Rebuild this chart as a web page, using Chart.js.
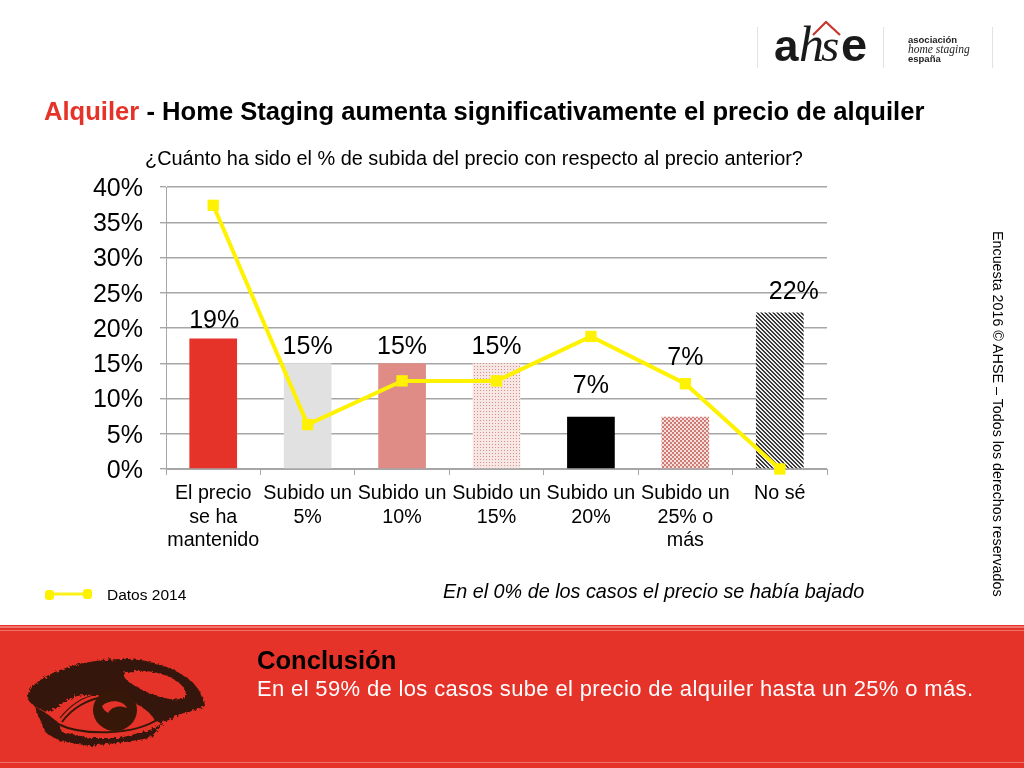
<!DOCTYPE html>
<html lang="es"><head><meta charset="utf-8">
<script src="https://cdn.jsdelivr.net/npm/chart.js@4"></script>
<style>
html,body{margin:0;padding:0;background:#fff;width:1024px;height:768px;overflow:hidden;font-family:"Liberation Sans",Arial,sans-serif;color:#000}
#stage{position:relative;width:1024px;height:768px;overflow:hidden}
#stage canvas{position:absolute;left:0;top:0}
.t{position:absolute;white-space:nowrap;line-height:1}
#band{position:absolute;left:0;top:625px;width:1024px;height:143px;background:#e6332a}
#band i{position:absolute;left:0;width:1024px;height:1px;background:#f0736c;display:block}
svg{position:absolute;left:0;top:0}
</style></head><body>
<div id="stage">
<canvas id="c" width="1024" height="768"></canvas>
<div id="band"><i style="top:1px;height:2px"></i><i style="top:5px"></i><i style="top:137px"></i></div>
<svg width="1024" height="768" viewBox="0 0 1024 768">
  <defs><filter id="rough" x="-5%" y="-5%" width="110%" height="110%"><feTurbulence type="fractalNoise" baseFrequency="0.35" numOctaves="2" seed="4"/><feDisplacementMap in="SourceGraphic" scale="5"/></filter></defs>
  <g stroke="#e3e3e3" stroke-width="1"><line x1="757.5" y1="27" x2="757.5" y2="68"/><line x1="883.5" y1="27" x2="883.5" y2="68"/><line x1="992.5" y1="27" x2="992.5" y2="68"/></g>
  <polyline points="813,35 826,22 840,35" fill="none" stroke="#c8352d" stroke-width="2.2"/>
  <text x="774" y="61" font-family="Liberation Sans" font-weight="700" font-size="44" fill="#1a1a1a">a</text>
  <text x="799" y="61" font-family="Liberation Serif" font-style="italic" font-size="50" fill="#1a1a1a">h</text>
  <text x="821" y="61" font-family="Liberation Serif" font-style="italic" font-size="47" fill="#1a1a1a">s</text>
  <text x="841" y="61" font-family="Liberation Sans" font-weight="700" font-size="47" fill="#1a1a1a">e</text>
  <text x="908" y="43" font-family="Liberation Sans" font-weight="700" font-size="9.5" fill="#222">asociación</text>
  <text x="908" y="52.5" font-family="Liberation Serif" font-style="italic" font-size="11.5" fill="#222">home staging</text>
  <text x="908" y="61.5" font-family="Liberation Sans" font-weight="700" font-size="9.5" fill="#222">españa</text>
  <line x1="50" y1="594" x2="87" y2="594" stroke="#fbf219" stroke-width="3"/>
  <rect x="45" y="590" width="9" height="10" rx="3" fill="#fff200"/><rect x="83" y="589" width="9" height="10" rx="3" fill="#fff200"/>
  <g filter="url(#rough)" fill="#361708" stroke="none">
    <path fill-rule="evenodd" d="M27 697C30 685 42 677 60 670C80 662 105 659 125 659C150 659 175 668 190 680C200 689 204 698 205 706C198 709 190 712 180 714C172 719 162 724 156 722C150 712 142 705 130 702C112 696 88 692 74 697C62 702 52 712 46 712C38 708 30 705 27 697ZM123 673C140 668 165 672 178 682C188 690 188 697 180 699C165 701 147 693 135 686C128 682 124 678 123 673Z"/>
    <path d="M34 706L46 713L58 722L62 732L90 738L120 738L150 730L165 722L150 738L125 742L90 746L60 741L46 733Z"/>
  </g>
  <g fill="none" stroke="#361708">
    <path d="M62 722C72 708 88 699 104 697" stroke-width="2"/>
    <path d="M58 724C80 735 132 737 160 718" stroke-width="2"/>
    <path d="M60 718C72 703 86 696 98 694" stroke-width="1.2"/>
  </g>
  <ellipse cx="115" cy="710" rx="22" ry="21" fill="#361708"/>
  <path d="M102 706C110 698 124 701 127 708C120 705 112 706 108 713C105 711 103 709 102 706Z" fill="#e6332a"/>
</svg>
<div class="t" style="left:44px;top:99px;font-size:25.6px;font-weight:700"><span style="color:#e6332a">Alquiler</span> - Home Staging aumenta significativamente el precio de alquiler</div>
<div class="t" style="left:145px;top:149px;font-size:19.9px;letter-spacing:0">¿Cuánto ha sido el % de subida del precio con respecto al precio anterior?</div>
<div class="t" style="left:107px;top:587px;font-size:15.5px">Datos 2014</div>
<div class="t" style="left:443px;top:582px;font-size:19.8px;font-style:italic">En el 0% de los casos el precio se había bajado</div>
<div class="t" style="left:1005px;top:231px;font-size:14.3px;transform-origin:0 0;transform:rotate(90deg)">Encuesta 2016 © AHSE – Todos los derechos reservados</div>
<div class="t" style="left:257px;top:648px;font-size:25.6px;font-weight:700">Conclusión</div>
<div class="t" style="left:257px;top:678px;font-size:22px;color:#fff;letter-spacing:.35px">En el 59% de los casos sube el precio de alquiler hasta un 25% o más.</div>
</div>
<script>
const categories = [["El precio","se ha","mantenido"],["Subido un","5%"],["Subido un","10%"],["Subido un","15%"],["Subido un","20%"],["Subido un","25% o","más"],["No sé"]];
const surveyValues = [18.5, 15, 15, 15, 7.4, 7.4, 22.2];
const data2014 = [37.4, 6.3, 12.5, 12.5, 18.8, 12.1, 0];
const percentLabels = ["19%","15%","15%","15%","7%","7%","22%"];
const labelDx = [1,0,0,0,0,0,14];
const labelDy = [-17,-16,-16,-16,-31,-59,-20];
const yTicks = [0,5,10,15,20,25,30,35,40];

function pat(size, draw){
  const p=document.createElement('canvas');p.width=p.height=size;
  draw(p.getContext('2d'));
  return p.getContext('2d').createPattern(p,'repeat');
}
const ctxMain=document.getElementById('c').getContext('2d');
const fine=pat(3,g=>{g.fillStyle='#f6e6e4';g.fillRect(0,0,3,3);g.fillStyle='#d9908b';g.fillRect(0,0,1,1);});
const check=pat(4,g=>{g.fillStyle='#f4dedc';g.fillRect(0,0,4,4);g.fillStyle='#cf7c76';g.fillRect(0,0,2,2);g.fillRect(2,2,2,2);});
const hatch=pat(4,g=>{g.fillStyle='#eeeeee';g.fillRect(0,0,4,4);g.fillStyle='#3a3a3a';for(let i=0;i<4;i++){g.fillRect(i,i,1,1);g.fillRect((i+1)%4,i,1,1);}});
const barFills=['#e6332a','#e1e1e1','#e08c86',fine,'#000000',check,hatch];

const barLabels={id:'barLabels',afterDatasetsDraw(ch){
  const meta=ch.getDatasetMeta(1),g=ch.ctx;
  g.save();g.font='25px "Liberation Sans"';g.fillStyle='#000';g.textAlign='center';g.textBaseline='middle';
  meta.data.forEach((el,i)=>g.fillText(percentLabels[i],el.x+labelDx[i],el.y+labelDy[i]));
  g.restore();
}};
new Chart(ctxMain,{
  data:{labels:categories,datasets:[
    {type:'line',label:'Datos 2014',data:data2014,order:0,clip:false,borderColor:'#fff200',backgroundColor:'#fff200',borderWidth:4,tension:0,
     pointStyle:'rect',pointRadius:8,pointHoverRadius:8,pointBorderWidth:0,pointBackgroundColor:'#fff200'},
    {type:'bar',label:'Encuesta 2016',data:surveyValues,order:1,backgroundColor:barFills,barPercentage:.505,categoryPercentage:1}
  ]},
  options:{responsive:false,animation:false,devicePixelRatio:1,
    layout:{padding:{left:80,top:187,right:197,bottom:214}},
    plugins:{legend:{display:false},tooltip:{enabled:false},title:{display:false}},
    scales:{
      x:{afterFit(s){s.height=85;},grid:{drawOnChartArea:false,color:'#a6a6a6',tickLength:6,offset:true},border:{color:'#a6a6a6',width:1},
         ticks:{color:'#000',font:{family:'Liberation Sans',size:19.7,lineHeight:1.19},maxRotation:0,minRotation:0,autoSkip:false,padding:7}},
      y:{min:0,max:40,afterFit(s){s.width=86;},afterBuildTicks(s){s.ticks=yTicks.map(v=>({value:v}));},
         grid:{color:'#a6a6a6',tickLength:6,lineWidth:1.4},border:{color:'#a6a6a6',width:1},
         ticks:{color:'#000',font:{family:'Liberation Sans',size:25},padding:17,labelOffset:2,callback:v=>v+'%'}}
    }},
  plugins:[barLabels]
});
</script>
</body></html>
